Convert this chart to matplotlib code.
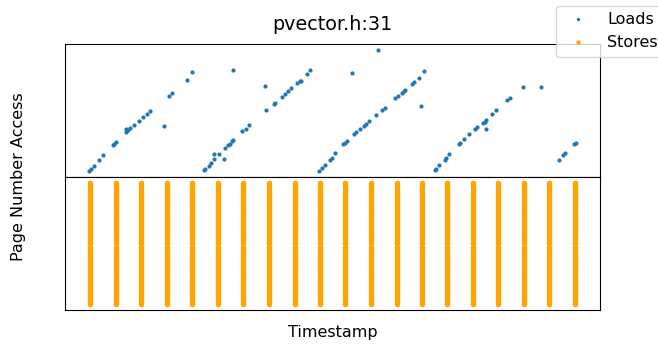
import matplotlib
matplotlib.use("Agg")
import matplotlib.pyplot as plt

title = "pvector.h:31"
xlabel = "Timestamp"
ylabel = "Page Number Access"

load_time = [89, 91, 93.3, 99, 103, 112.7, 114, 116, 125.3, 125.3, 127.3, 130, 134, 138.3, 143, 146.3, 150, 164, 168.3, 171.7, 187, 192.3,
             204.3, 205.3, 208.7, 211.3, 214.3, 214.3, 218.7, 224, 225, 227.7, 229.7, 232.3, 233.3, 233, 241.7, 245.7, 248.7, 264.7, 266, 273.7, 275.3, 281.7, 284.7, 288.3, 291, 296.7, 300, 301, 307, 310.3,
             319.3, 322, 324.7, 329.7, 331.5, 334.7, 343.3, 345, 347, 351.7, 354, 355.7, 360.3, 364, 366.3, 369.3, 376.3, 378.3, 381.7, 384.7, 395, 398.3, 402, 404, 405, 411.7, 414, 418.7, 421, 423.7,
             434.7, 436.3, 439, 445, 446.3, 449.3, 459, 460, 464.3, 469, 475, 477, 483, 484.7, 486.3, 486.7, 492.3, 496.3, 507.7, 510.3, 523, 541.3,
             559.7, 563.3, 565.3, 574, 576]
load_page = [6, 7.7, 11, 17, 22, 32, 33, 35, 44.7, 48, 46.3, 48.3, 51.7, 55.7, 60, 62.7, 66, 50.7, 81.3, 84.3, 97.3, 105.3,
             6.3, 7.7, 11, 14, 17.7, 23, 22.7, 17.7, 29, 31.7, 33, 36, 37, 106.7, 45.3, 48, 51.7, 91, 67, 72.7, 74, 79.7, 82.7, 85.7, 88.7, 93.7, 95.7, 96.3, 103, 106.7,
             5.7, 8.7, 12, 17, 18.7, 23.3, 32.3, 33.7, 35.3, 104.3, 42.7, 44.3, 47.7, 51.3, 53, 55.7, 62, 127, 67.3, 69.3, 78.7, 81, 84.3, 86.3, 87.3, 93.3, 95, 99.3, 70.7, 106,
             6.3, 7.7, 11.3, 17, 18.7, 22.7, 32.3, 33.3, 37.7, 42.7, 47.3, 49.7, 54, 55.3, 48, 56.7, 63, 67, 76.7, 78.7, 90.3, 89.7,
             16.7, 21.7, 23.7, 32.3, 34]

store_sweep_time = [90, 115.7, 140.7, 166.7, 192, 217.7, 242.7, 268.7, 294.7, 320,
                    345.3, 371, 396.7, 422, 447.3, 473.3, 498.7, 524.3, 549.7, 575.7]
store_sweep_pages = [0, 1, 2, 3, 4, 5, 6, 7, 8, 9, 10, 11, 12, 13, 14, 15, 16, 17, 18, 19, 20,
                     21, 22, 23, 24, 25, 26, 27, 28, 29, 30, 31, 32, 33, 34, 35, 36, 37, 38, 39, 40]

store_time = [t for t in store_sweep_time for _ in store_sweep_pages]
store_page = [p for _ in store_sweep_time for p in store_sweep_pages]

fig = plt.figure(figsize=(6.58, 3.45), dpi=100)
ax1 = fig.add_axes([65/658, 1-177/345, 535/658, 133/345])
ax2 = fig.add_axes([65/658, 1-310/345, 535/658, 133/345], sharex=ax1)

l1, = ax1.plot(load_time, load_page, '.', color='#1f77b4', markersize=4, label='Loads')
l2, = ax2.plot(store_time, store_page, '.', color='orange', markersize=6, label='Stores')

for ax in (ax1, ax2):
    ax.set_xticks([])
    ax.set_yticks([])

ax1.set_title(title, fontsize=13.8, pad=10)
ax2.set_xlabel(xlabel, fontsize=11.5, labelpad=11)
fig.text(19/658, 1-177/345, ylabel, rotation=90, ha='center', va='center', fontsize=11.5)

fig.legend(handles=[l1, l2], loc='upper left', bbox_to_anchor=(556/658, 1-6/345),
           borderaxespad=0, fontsize=11.5, markerscale=0.7)

fig.savefig("out.png", dpi=100)
